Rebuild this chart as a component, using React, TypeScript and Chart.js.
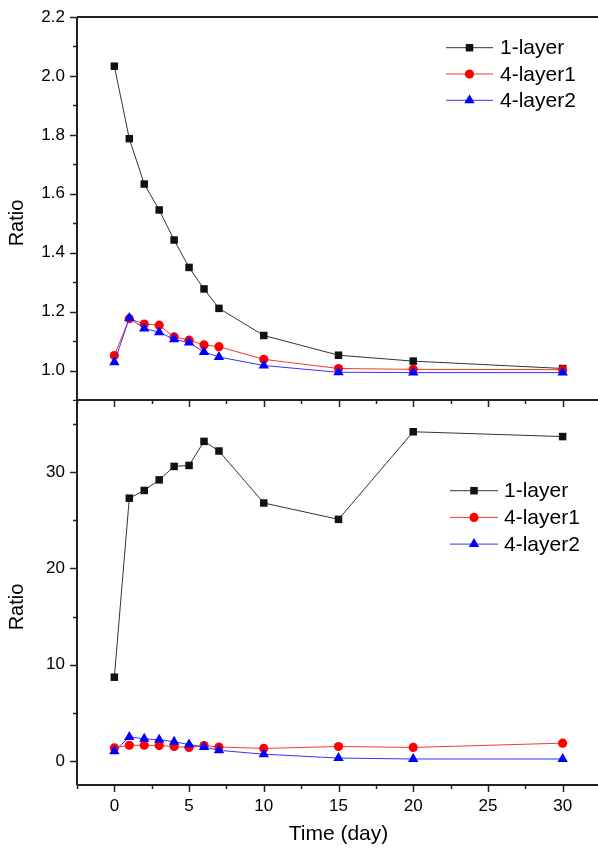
import React, { useEffect, useRef } from 'react';
import { Chart, registerables } from 'chart.js';
import { drawPoint } from 'chart.js/helpers';

Chart.register(...registerables);

// ---- data ----
const days = [0, 1, 2, 3, 4, 5, 6, 7, 10, 15, 20, 30];
const seriesNames = ['1-layer', '4-layer1', '4-layer2'];
const topOneLayer = [2.033, 1.787, 1.633, 1.545, 1.443, 1.35, 1.277, 1.211, 1.119, 1.052, 1.032, 1.007];
const topFourLayer1 = [1.051, 1.176, 1.158, 1.154, 1.114, 1.103, 1.087, 1.081, 1.038, 1.007, 1.004, 1.003];
const topFourLayer2 = [1.028, 1.178, 1.143, 1.13, 1.106, 1.095, 1.063, 1.046, 1.017, 0.994, 0.993, 0.993];
const bottomOneLayer = [8.7, 27.3, 28.1, 29.2, 30.6, 30.7, 33.2, 32.2, 26.8, 25.1, 34.2, 33.7];
const bottomFourLayer1 = [1.35, 1.63, 1.63, 1.6, 1.5, 1.4, 1.6, 1.45, 1.3, 1.5, 1.4, 1.85];
const bottomFourLayer2 = [1.0, 2.5, 2.3, 2.2, 2.0, 1.7, 1.45, 1.1, 0.7, 0.3, 0.2, 0.2];

const xMajorTicks = [0, 5, 10, 15, 20, 25, 30];
const xMinorTicks = [-2.5, 2.5, 7.5, 12.5, 17.5, 22.5, 27.5, 32.5];
const topYMajorTicks = [1.0, 1.2, 1.4, 1.6, 1.8, 2.0, 2.2];
const topYMinorTicks = [0.9, 1.1, 1.3, 1.5, 1.7, 1.9, 2.1];
const bottomYMajorTicks = [0, 10, 20, 30];
const bottomYMinorTicks = [5, 15, 25, 35];

const xTitle = 'Time (day)';
const yTitle = 'Ratio';

// ---- styles ----
const FONT = 'Arial, "Liberation Sans", sans-serif';
const COLORS = ['#111111', '#ff0000', '#0000ff'];
const LINE_COLORS = ['#333333', '#ff3333', '#3333ff'];
const STYLES = ['rect', 'circle', 'triangle'];
const RADII = [5.3, 4.6, 6];
const AXIS_COLOR = '#222222';

function toPoints(vals: number[]) {
  return days.map((d, i) => ({ x: d, y: vals[i] }));
}

function makeDatasets(series: number[][]) {
  return series.map((vals, i) => ({
    label: seriesNames[i],
    data: toPoints(vals),
    borderColor: LINE_COLORS[i],
    backgroundColor: COLORS[i],
    borderWidth: 1,
    pointStyle: STYLES[i],
    pointRadius: RADII[i],
    pointBorderWidth: 0,
    pointBackgroundColor: COLORS[i],
    tension: 0,
    order: 2 - i,
    clip: false as any,
  }));
}

const decorPlugin = {
  id: 'decor',
  afterDatasetsDraw(chart: any, _args: any, opts: any) {
    const ctx = chart.ctx;
    const { left, right, top, bottom } = chart.chartArea;
    const xs = chart.scales.x;
    const ys = chart.scales.y;
    ctx.save();
    ctx.strokeStyle = AXIS_COLOR;
    ctx.lineWidth = 2;
    ctx.beginPath();
    ctx.moveTo(left, top);
    ctx.lineTo(right, top);
    ctx.moveTo(left, bottom);
    ctx.lineTo(right, bottom);
    ctx.moveTo(left, top);
    ctx.lineTo(left, bottom);
    ctx.moveTo(right, top);
    ctx.lineTo(right, bottom);
    ctx.stroke();

    ctx.lineWidth = 1.5;
    ctx.beginPath();
    (opts.yMajor || []).forEach((v: number) => {
      const y = Math.round(ys.getPixelForValue(v)) + 0.5;
      ctx.moveTo(left, y);
      ctx.lineTo(left - 7, y);
    });
    (opts.yMinor || []).forEach((v: number) => {
      const y = Math.round(ys.getPixelForValue(v)) + 0.5;
      ctx.moveTo(left, y);
      ctx.lineTo(left - 4, y);
    });
    if (opts.xTicks) {
      xMajorTicks.forEach((v) => {
        const x = Math.round(xs.getPixelForValue(v)) + 0.5;
        ctx.moveTo(x, bottom);
        ctx.lineTo(x, bottom + 7);
        ctx.moveTo(x, top);
        ctx.lineTo(x, top + 7);
      });
      xMinorTicks.forEach((v) => {
        const x = Math.round(xs.getPixelForValue(v)) + 0.5;
        ctx.moveTo(x, bottom);
        ctx.lineTo(x, bottom + 4);
        ctx.moveTo(x, top);
        ctx.lineTo(x, top + 4);
      });
    }
    ctx.stroke();

    ctx.fillStyle = '#000';
    ctx.font = `20px ${FONT}`;
    ctx.textAlign = 'center';
    ctx.textBaseline = 'middle';
    ctx.translate(opts.titleX, opts.titleY);
    ctx.rotate(-Math.PI / 2);
    ctx.fillText(yTitle, 0, 0);
    ctx.restore();
  },
  afterDraw(chart: any, _args: any, opts: any) {
    const ctx = chart.ctx;
    const lg = opts.legend;
    if (!lg) return;
    ctx.save();
    chart.data.datasets.forEach((ds: any, i: number) => {
      const y = lg.y + i * lg.gap;
      ctx.strokeStyle = ds.borderColor;
      ctx.lineWidth = 1;
      ctx.beginPath();
      ctx.moveTo(lg.x1, y);
      ctx.lineTo(lg.x2, y);
      ctx.stroke();
      ctx.fillStyle = ds.pointBackgroundColor;
      drawPoint(ctx, { pointStyle: ds.pointStyle, radius: ds.pointRadius, rotation: 0, borderWidth: 0 } as any, (lg.x1 + lg.x2) / 2, y);
      ctx.fillStyle = '#000';
      ctx.font = `21px ${FONT}`;
      ctx.textAlign = 'left';
      ctx.textBaseline = 'middle';
      ctx.fillText(ds.label, lg.tx, y + 1);
    });
    ctx.restore();
  },
};

function yScale(min: number, max: number, ticks: number[], digits: number) {
  return {
    type: 'linear',
    min,
    max,
    afterBuildTicks: (s: any) => {
      s.ticks = ticks.map((v) => ({ value: v }));
    },
    afterFit: (s: any) => {
      s.width = 77;
      s.paddingTop = 0;
      s.paddingBottom = 0;
    },
    grid: { display: false, drawTicks: false },
    border: { display: false },
    ticks: {
      padding: 12,
      color: '#000',
      font: { family: FONT, size: 17 },
      callback: (v: any) => Number(v).toFixed(digits),
    },
    title: { display: false },
  };
}

export default function App() {
  const topRef = useRef<HTMLCanvasElement>(null);
  const botRef = useRef<HTMLCanvasElement>(null);

  useEffect(() => {
    const top = new Chart(topRef.current as HTMLCanvasElement, {
      type: 'line',
      data: { datasets: makeDatasets([topOneLayer, topFourLayer1, topFourLayer2]) as any },
      options: {
        responsive: false,
        maintainAspectRatio: false,
        animation: false,
        devicePixelRatio: 1,
        layout: { autoPadding: false, padding: { top: 17, bottom: 1, left: 0, right: 0 } },
        scales: {
          x: { type: 'linear', min: -2.5, max: 32.5, display: false },
          y: yScale(0.9, 2.2, topYMajorTicks, 1) as any,
        },
        plugins: {
          legend: { display: false },
          tooltip: { enabled: false },
          decor: {
            yMajor: topYMajorTicks,
            yMinor: topYMinorTicks,
            xTicks: false,
            titleX: 17,
            titleY: 223,
            legend: { x1: 446, x2: 493, tx: 500, y: 47.7, gap: 26.3 },
          },
        } as any,
      } as any,
      plugins: [decorPlugin],
    });

    const bot = new Chart(botRef.current as HTMLCanvasElement, {
      type: 'line',
      data: { datasets: makeDatasets([bottomOneLayer, bottomFourLayer1, bottomFourLayer2]) as any },
      options: {
        responsive: false,
        maintainAspectRatio: false,
        animation: false,
        devicePixelRatio: 1,
        layout: { autoPadding: false, padding: 0 },
        scales: {
          x: {
            type: 'linear',
            min: -2.5,
            max: 32.5,
            afterBuildTicks: (s: any) => {
              s.ticks = xMajorTicks.map((v) => ({ value: v }));
            },
            afterFit: (s: any) => {
              s.height = 67;
              s.paddingLeft = 0;
              s.paddingRight = 0;
            },
            grid: { display: false, drawTicks: false },
            border: { display: false },
            ticks: {
              padding: 11,
              color: '#000',
              maxRotation: 0,
              autoSkip: false,
              font: { family: FONT, size: 17 },
              callback: (v: any) => String(v),
            },
            title: {
              display: true,
              text: xTitle,
              color: '#000',
              font: { family: FONT, size: 21 },
              padding: { top: 0, bottom: 5 },
            },
          } as any,
          y: yScale(-2.5, 37.5, bottomYMajorTicks, 0) as any,
        },
        plugins: {
          legend: { display: false },
          tooltip: { enabled: false },
          decor: {
            yMajor: bottomYMajorTicks,
            yMinor: bottomYMinorTicks,
            xTicks: true,
            titleX: 17,
            titleY: 207,
            legend: { x1: 450, x2: 498, tx: 504, y: 90.7, gap: 26.7 },
          },
        } as any,
      } as any,
      plugins: [decorPlugin],
    });

    return () => {
      top.destroy();
      bot.destroy();
    };
  }, []);

  return (
    <div
      style={{
        position: 'absolute',
        left: 0,
        top: 0,
        width: 598,
        height: 852,
        overflow: 'hidden',
        background: '#fff',
      }}
    >
      <canvas ref={topRef} width={600} height={401} style={{ position: 'absolute', left: 0, top: 0 }} />
      <canvas ref={botRef} width={600} height={452} style={{ position: 'absolute', left: 0, top: 400 }} />
    </div>
  );
}
